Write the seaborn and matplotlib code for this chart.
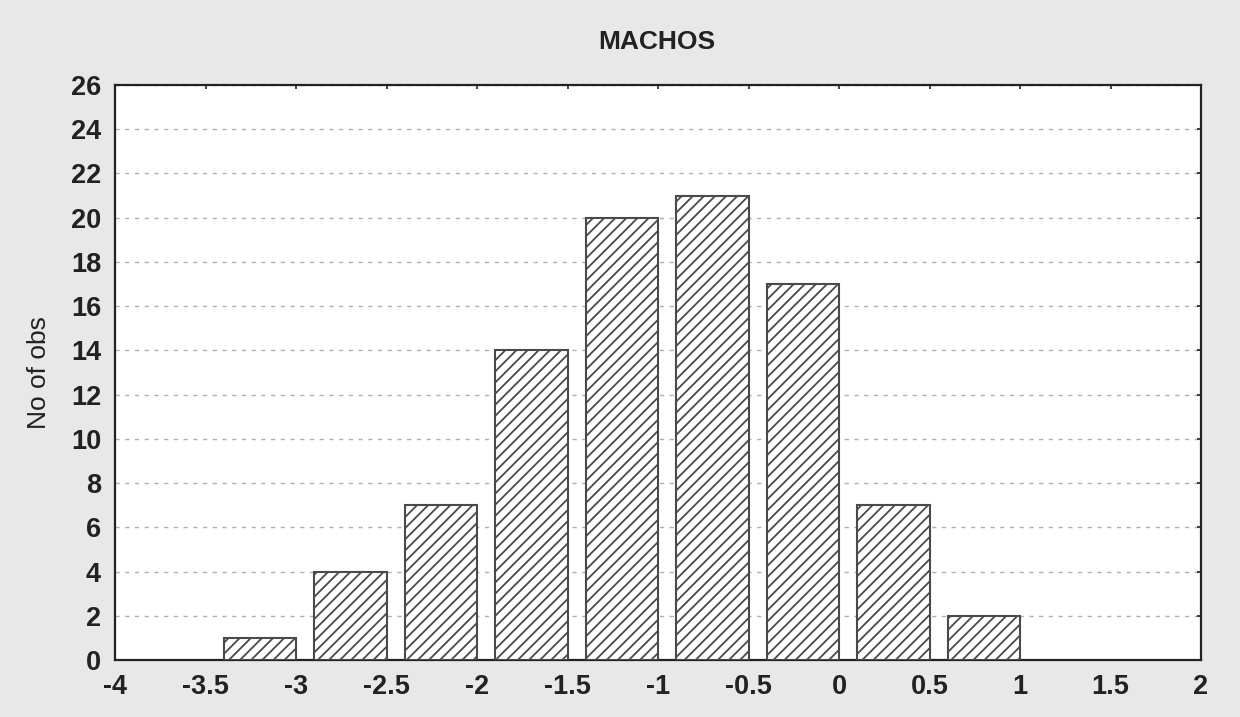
import numpy as np
import matplotlib
matplotlib.use("Agg")
import matplotlib.pyplot as plt
import seaborn as sns

# Data
bin_lo = [-3.5, -3.0, -2.5, -2.0, -1.5, -1.0, -0.5, 0.0, 0.5]
bin_hi = [-3.0, -2.5, -2.0, -1.5, -1.0, -0.5, 0.0, 0.5, 1.0]
counts = [1, 4, 7, 14, 20, 21, 17, 7, 2]
xticks = [-4, -3.5, -3, -2.5, -2, -1.5, -1, -0.5, 0, 0.5, 1, 1.5, 2]
xticklabels = ["-4", "-3.5", "-3", "-2.5", "-2", "-1.5", "-1", "-0.5", "0", "0.5", "1", "1.5", "2"]
yticks = list(range(0, 27, 2))
title = "MACHOS"
ylabel = "No of obs"

sns.set_theme(style="white")
plt.rcParams["font.family"] = ["Liberation Sans", "DejaVu Sans"]
plt.rcParams["hatch.linewidth"] = 1.3
plt.rcParams["hatch.color"] = "#3a3a3a"

fig = plt.figure(figsize=(12.4, 7.17), dpi=100, facecolor="#e8e8e8")
ax = fig.add_axes([115/1240, 1-660/717, (1201-115)/1240, (660-85)/717])
ax.set_facecolor("white")

ax.bar(bin_hi, counts, width=-0.4, align="edge", color="white",
       edgecolor="#4a4a4a", linewidth=1.5, hatch="///", zorder=3)

ax.set_xlim(-4, 2)
ax.set_ylim(0, 26)
ax.set_xticks(xticks)
ax.set_xticklabels(xticklabels)
ax.set_yticks(yticks)
ax.yaxis.grid(True, linestyle=(0, (3, 4)), color="#b0b0b0", linewidth=1.0, zorder=0)
ax.xaxis.grid(False)

for s in ax.spines.values():
    s.set_color("#222222")
    s.set_linewidth(1.6)

ax.tick_params(axis="both", direction="in", length=3, width=1.2, color="#222222",
               labelsize=19.5, labelcolor="#222222", top=True, right=True)
ax.tick_params(axis="y", pad=10)
ax.tick_params(axis="x", pad=10)
for lab in ax.get_xticklabels() + ax.get_yticklabels():
    lab.set_fontweight("bold")

ax.set_ylabel(ylabel, fontsize=19, color="#222222", labelpad=14)
fig.text(657/1240, 1-42/717, title, ha="center", va="center",
         fontsize=19, fontweight="bold", color="#222222")

fig.savefig("out.png", dpi=100, facecolor=fig.get_facecolor())
